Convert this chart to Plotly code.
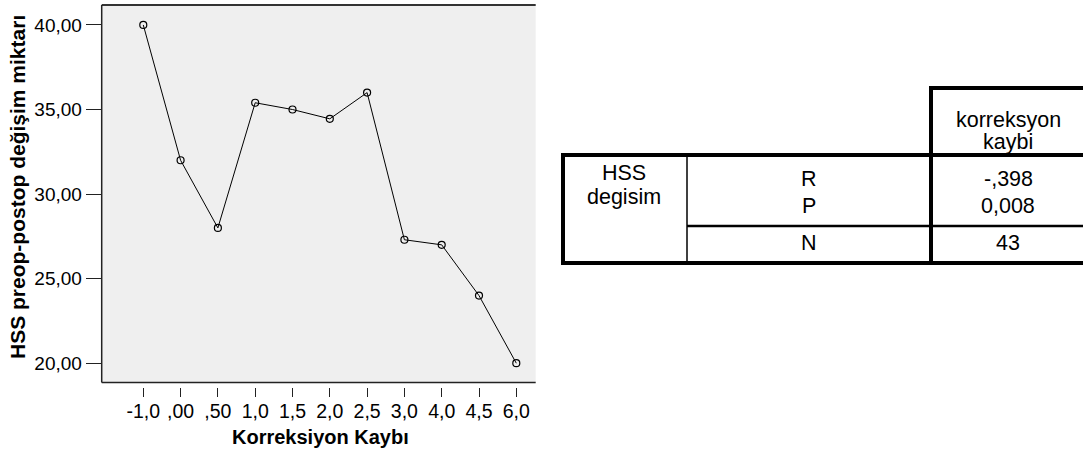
import plotly.graph_objects as go

W, H = 1083, 451

# ---- data ----
x_labels = ["-1,0", ",00", ",50", "1,0", "1,5", "2,0", "2,5", "3,0", "4,0", "4,5", "6,0"]
hss_change = [40.0, 32.0, 28.0, 35.4, 35.0, 34.45, 36.0, 27.3, 27.0, 24.0, 20.0]
y_tick_values = [20, 25, 30, 35, 40]
y_tick_labels = ["20,00", "25,00", "30,00", "35,00", "40,00"]

x_title = "Korreksiyon Kaybı"
y_title = "HSS preop-postop değişim miktarı"

table_col_header = ["korreksyon", "kaybi"]
table_row_group = ["HSS", "degisim"]
table_stat_names = ["R", "P", "N"]
table_stat_values = ["-,398", "0,008", "43"]

FONT = "Liberation Sans, Arial, Helvetica, sans-serif"


def px(xp):
    return xp / W


def py(yp):
    return 1 - yp / H


fig = go.Figure()
fig.add_trace(go.Scatter(
    x=x_labels, y=hss_change, mode="lines+markers",
    line=dict(color="black", width=1),
    marker=dict(symbol="circle-open", size=7, color="black", line=dict(width=1.2)),
    showlegend=False, hoverinfo="x+y",
))

plot_l, plot_r, plot_t, plot_b = 101.7, 535.7, 5, 382.5

fig.update_layout(
    width=W, height=H, margin=dict(l=0, r=0, t=0, b=0),
    paper_bgcolor="white", plot_bgcolor="#efefef",
    font=dict(family=FONT, color="black"),
    xaxis=dict(
        domain=[px(plot_l), px(plot_r)], anchor="free", position=py(387),
        type="category", range=[-1.115, 10.52],
        showline=False, showgrid=False, zeroline=False,
        ticks="outside", ticklen=9, tickwidth=1, tickcolor="#222",
        ticklabelstandoff=-2,
        tickfont=dict(size=19.5, family=FONT, color="black"),
        fixedrange=True,
    ),
    yaxis=dict(
        domain=[py(plot_b), py(plot_t)], anchor="x",
        range=[18.86, 41.18],
        tickvals=y_tick_values, ticktext=y_tick_labels,
        showline=False, showgrid=False, zeroline=False,
        ticks="outside", ticklen=15, tickwidth=1, tickcolor="#222",
        tickfont=dict(size=19, family=FONT, color="black"),
        fixedrange=True,
    ),
)

shapes = []
# plot frame: top, left, bottom (no right border)
shapes.append(dict(type="line", xref="paper", yref="paper",
                   x0=px(plot_l), x1=px(plot_r), y0=py(plot_t), y1=py(plot_t),
                   line=dict(color="#333", width=2)))
shapes.append(dict(type="line", xref="paper", yref="paper",
                   x0=px(plot_l), x1=px(plot_l), y0=py(plot_t), y1=py(plot_b),
                   line=dict(color="#222", width=1.5)))
shapes.append(dict(type="line", xref="paper", yref="paper",
                   x0=px(plot_l), x1=px(plot_r), y0=py(plot_b), y1=py(plot_b),
                   line=dict(color="#222", width=1.5)))

# ---- table lines ----
t_left, t_mid, t_val, t_right = 563, 687, 931, 1083
t_top, t_head, t_rp, t_bot = 88, 155, 226, 263


def hline(x0, x1, y, w):
    shapes.append(dict(type="line", xref="paper", yref="paper",
                       x0=px(x0), x1=px(x1), y0=py(y), y1=py(y),
                       line=dict(color="black", width=w)))


def vline(x, y0, y1, w):
    shapes.append(dict(type="line", xref="paper", yref="paper",
                       x0=px(x), x1=px(x), y0=py(y0), y1=py(y1),
                       line=dict(color="black", width=w)))


hline(t_val - 2, t_right, t_top, 4)
hline(t_left - 2, t_right, t_head, 4)
hline(t_mid, t_right, t_rp, 2.5)
hline(t_left - 2, t_right, t_bot, 4)
vline(t_left, t_head, t_bot, 4)
vline(t_mid, t_head, t_bot, 1.5)
vline(t_val, t_top - 2, t_bot + 2, 4)

fig.update_layout(shapes=shapes)

annots = []


def txt(s, x, y, size=21.5, bold=False, angle=0):
    annots.append(dict(text=("<b>%s</b>" % s) if bold else s, x=px(x), y=py(y),
                       xref="paper", yref="paper", showarrow=False,
                       xanchor="center", yanchor="middle", textangle=angle,
                       font=dict(size=size, family=FONT, color="black")))


# axis titles
txt(x_title, 320, 437, size=20, bold=True)
txt(y_title, 18, 187, size=21, bold=True, angle=-90)

# table text
val_cx = (t_val + t_right) / 2 + 1
mid_cx = (t_mid + t_val) / 2
grp_cx = (t_left + t_mid) / 2 - 1
txt(table_col_header[0], val_cx, 120)
txt(table_col_header[1], val_cx, 142)
txt(table_row_group[0], grp_cx, 173)
txt(table_row_group[1], grp_cx, 197)
stat_y = [179, 206, 243]
for name, val, yy in zip(table_stat_names, table_stat_values, stat_y):
    txt(name, mid_cx, yy)
    txt(val, val_cx, yy)

fig.update_layout(annotations=annots)

fig.write_html("out.html", config={"displayModeBar": False},
               post_script="document.body.style.margin='0';")
